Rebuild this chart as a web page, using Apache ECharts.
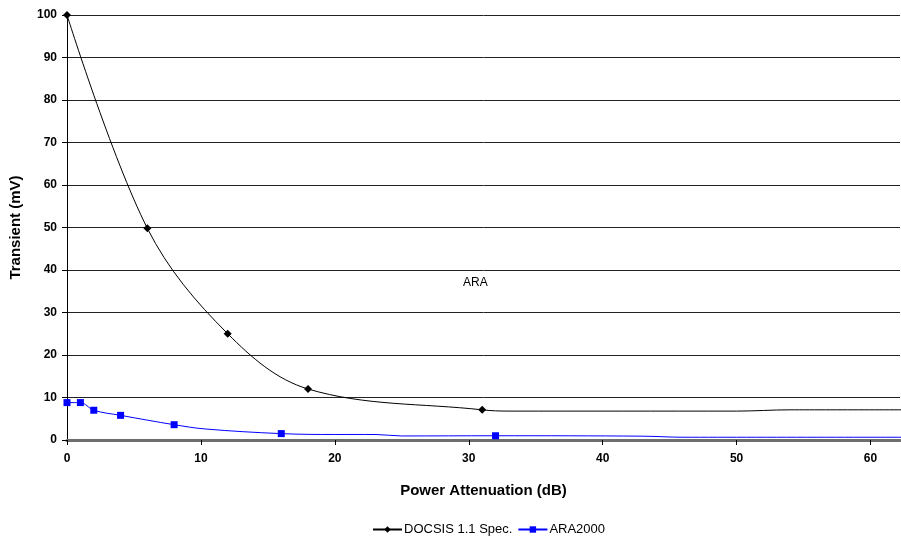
<!DOCTYPE html>
<html>
<head>
<meta charset="utf-8">
<script src="https://cdn.jsdelivr.net/npm/echarts@6/dist/echarts.min.js"></script>
<style>html,body{margin:0;padding:0;background:#fff}#c{width:901px;height:537px}</style>
</head>
<body>
<div id="c"></div>
<script>
// DOCSIS 1.1 Spec. marked points
const docsisMarked = [[0,100],[6,49.8],[12,25],[18,12],[31,7.1]];
// DOCSIS line continuation (unmarked)
const docsisTail = [[33,6.8],[50,6.8],[54,7.1],[64,7.1]];
// ARA2000 marked points
const araMarked = [[0,8.8],[1,8.8],[2,7.0],[4,5.8],[8,3.6],[16,1.5],[32,1.0]];
// ARA2000 line continuation (unmarked)
const araTail = [[43,0.9],[46,0.65],[64,0.65]];
const araInner = [[10.3,2.6],[20,1.3],[23,1.3],[25,0.95]];

const seriesNames = ['DOCSIS 1.1 Spec.','ARA2000'];
const xTicks = {min:0, max:62.2, interval:10};
const yTicks = {min:0, max:100, interval:10};

function build(marked, extra){
  const all = marked.map(p=>({value:p, marked:true})).concat(extra.map(p=>({value:p, marked:false})));
  all.sort((a,b)=>a.value[0]-b.value[0]);
  return all.map(d=> d.marked ? {value:d.value} : {value:d.value, symbol:'none'});
}

const chart = echarts.init(document.getElementById('c'), null, {renderer:'canvas'});
const font = 'Liberation Sans, Arial, sans-serif';
chart.setOption({
  animation:false,
  grid:{left:66, right:1, top:15, bottom:97, containLabel:false},
  xAxis:{
    type:'value', min:xTicks.min, max:xTicks.max, interval:xTicks.interval,
    name:'Power Attenuation (dB)', nameLocation:'middle', nameGap:43,
    nameTextStyle:{fontFamily:font, fontWeight:'bold', fontSize:15, color:'#000'},
    axisLine:{show:true, lineStyle:{color:'#6e6e6e', width:3}},
    axisTick:{show:true, inside:false, length:5, lineStyle:{color:'#000'}},
    axisLabel:{fontFamily:font, fontWeight:'bold', fontSize:12, color:'#000', margin:13, showMaxLabel:false},
    splitLine:{show:false}
  },
  yAxis:{
    type:'value', min:yTicks.min, max:yTicks.max, interval:yTicks.interval,
    name:'Transient (mV)', nameLocation:'middle', nameGap:44,
    nameTextStyle:{fontFamily:font, fontWeight:'bold', fontSize:15, color:'#000'},
    axisLine:{show:true, lineStyle:{color:'#000', width:1}},
    axisTick:{show:true, inside:false, length:5, lineStyle:{color:'#000'}},
    axisLabel:{fontFamily:font, fontWeight:'bold', fontSize:12, color:'#000', margin:10},
    splitLine:{show:true, lineStyle:{color:'#222', width:1}}
  },
  legend:{
    left:367, top:518, itemWidth:29, itemHeight:8, itemGap:5,
    textStyle:{fontFamily:font, fontSize:13, color:'#000', padding:[0,0,0,-3]},
    data:seriesNames
  },
  graphic:[{type:'text', left:463, top:277, style:{text:'ARA', font:'12px '+font, fill:'#000'}}],
  series:[
    {name:seriesNames[0], type:'line', smooth:0.35, data:build(docsisMarked, docsisTail),
     symbol:'diamond', symbolSize:8, showAllSymbol:true,
     lineStyle:{color:'#000', width:1}, itemStyle:{color:'#000'}},
    {name:seriesNames[1], type:'line', smooth:0.35, data:build(araMarked, araInner.concat(araTail)),
     symbol:'rect', symbolSize:7, showAllSymbol:true,
     lineStyle:{color:'#0000ff', width:1}, itemStyle:{color:'#0000ff'}}
  ]
});
</script>
</body>
</html>
